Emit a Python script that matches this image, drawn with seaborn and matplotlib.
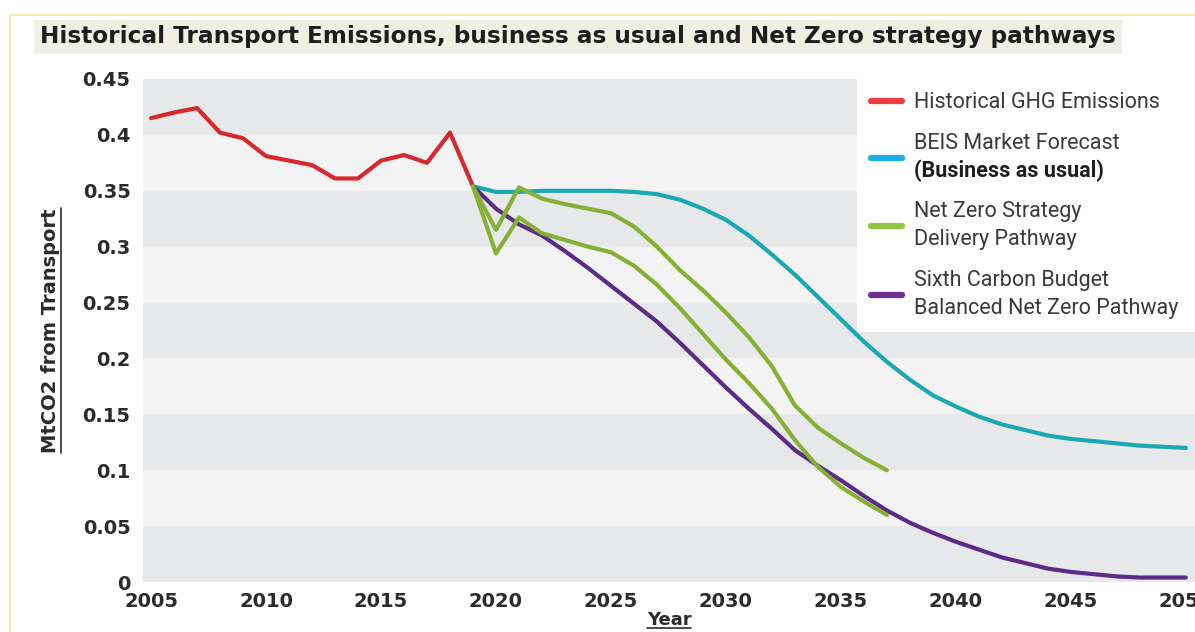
import matplotlib.pyplot as plt
import matplotlib.lines as mlines
import matplotlib.patches as mpatches
import seaborn as sns

# historical transport emissions (red line)
hist_years = list(range(2005, 2020))
hist_values = [0.415, 0.420, 0.424, 0.402, 0.397, 0.381, 0.377, 0.373,
               0.361, 0.361, 0.377, 0.382, 0.375, 0.402, 0.354]

# projections from 2019 to 2050
proj_years = list(range(2019, 2051))
beis_values = [0.354, 0.349, 0.349, 0.350, 0.350, 0.350, 0.350, 0.349,
               0.347, 0.342, 0.334, 0.324, 0.310, 0.293, 0.275, 0.255,
               0.235, 0.215, 0.197, 0.181, 0.167, 0.157, 0.148, 0.141,
               0.136, 0.131, 0.128, 0.126, 0.124, 0.122, 0.121, 0.120]
sixth_cb_values = [0.354, 0.334, 0.320, 0.310, 0.296, 0.281, 0.265, 0.249,
                   0.233, 0.214, 0.194, 0.174, 0.155, 0.137, 0.118, 0.104,
                   0.091, 0.077, 0.064, 0.053, 0.044, 0.036, 0.029, 0.022,
                   0.017, 0.012, 0.009, 0.007, 0.005, 0.004, 0.004, 0.004]

# net zero strategy delivery pathway (two green lines), 2019 to 2037
nzs_years = list(range(2019, 2038))
nzs_upper = [0.354, 0.315, 0.353, 0.343, 0.338, 0.334, 0.330, 0.318, 0.300,
             0.279, 0.261, 0.241, 0.219, 0.193, 0.158, 0.138, 0.124, 0.111, 0.100]
nzs_lower = [0.354, 0.294, 0.326, 0.312, 0.306, 0.300, 0.295, 0.283, 0.266,
             0.245, 0.222, 0.199, 0.178, 0.155, 0.127, 0.103, 0.085, 0.072, 0.060]

x_ticks = [2005, 2010, 2015, 2020, 2025, 2030, 2035, 2040, 2045, 2050]
y_ticks = [0, 0.05, 0.1, 0.15, 0.2, 0.25, 0.3, 0.35, 0.4, 0.45]
y_tick_labels = ['0', '0.05', '0.1', '0.15', '0.2', '0.25', '0.3', '0.35', '0.4', '0.45']

# second line of the BEIS entry is left blank and written in bold on top
legend_labels = ['Historical GHG Emissions',
                 'BEIS Market Forecast\n ',
                 'Net Zero Strategy\nDelivery Pathway',
                 'Sixth Carbon Budget\nBalanced Net Zero Pathway']
legend_bold = '(Business as usual)'
legend_colors = ['#ef3e42', '#1aaee5', '#8dc63f', '#6f2c91']

title = 'Historical Transport Emissions, business as usual and Net Zero strategy pathways'

sns.set_style('white')
plt.rcParams['font.family'] = ['Roboto', 'DejaVu Sans']

fig = plt.figure(figsize=(11.95, 6.32), dpi=100)
ax = fig.add_axes([143 / 1195, 50 / 632, 1 - 143 / 1195, 503 / 632])

# alternating grey bands
for i in range(len(y_ticks) - 1):
    band = '#f3f3f4' if i % 2 else '#e7e8ea'
    ax.axhspan(y_ticks[i], y_ticks[i + 1], color=band, lw=0, zorder=0)

# the lines
sns.lineplot(x=hist_years, y=hist_values, color='#d9272e', lw=3, ax=ax)
sns.lineplot(x=proj_years, y=beis_values, color='#1ba8b5', lw=3, ax=ax)
sns.lineplot(x=proj_years, y=sixth_cb_values, color='#5c2b88', lw=3, ax=ax)
sns.lineplot(x=nzs_years, y=nzs_upper, color='#86b034', lw=3, ax=ax)
sns.lineplot(x=nzs_years, y=nzs_lower, color='#86b034', lw=3, ax=ax)

ax.set_xlim(2004.65, 2050.4)
ax.set_ylim(0, 0.45)
ax.set_xticks(x_ticks)
ax.set_yticks(y_ticks)
ax.set_yticklabels(y_tick_labels)
ax.tick_params(length=0, labelsize=14, labelcolor='#2b2b2b')
ax.tick_params(axis='x', pad=7)
ax.tick_params(axis='y', pad=9)
for lab in ax.get_xticklabels() + ax.get_yticklabels():
    lab.set_fontweight('bold')
    lab.set_family('DejaVu Sans')
sns.despine(ax=ax, left=True, bottom=True)

ax.set_xlabel('Year', fontsize=13, fontweight='bold', family='DejaVu Sans',
              color='#2b2b2b', labelpad=0)
ax.set_ylabel('MtCO2 from Transport', fontsize=14, fontweight='bold',
              family='DejaVu Sans', color='#2b2b2b', labelpad=16)

# legend, stretched to the right edge like the white box in the original
handles = [mlines.Line2D([], [], color=c, lw=4.5) for c in legend_colors]
leg = ax.legend(handles, legend_labels, loc='upper left', mode='expand',
                bbox_to_anchor=(0.679, 0.0, 0.34, 1.0), borderaxespad=0,
                fontsize=15.5, frameon=True, fancybox=False, framealpha=1,
                facecolor='white', edgecolor='none', handlelength=1.45,
                handletextpad=0.55, labelspacing=0.9, borderpad=0.62)
for t in leg.get_texts():
    t.set_color('#3a3a3a')
    t.set_linespacing(1.45)
leg.set_zorder(10)
beis_text = leg.get_texts()[1]
ax.annotate(legend_bold, xy=(0, 0), xycoords=beis_text, ha='left', va='bottom',
            fontsize=15.5, fontweight='bold', color='#1e1e1e', zorder=11,
            annotation_clip=False)

# title with its shaded box
fig.text(40 / 1195, 1 - 37 / 632, title, ha='left', va='center', fontsize=16.7,
         fontweight='bold', family='DejaVu Sans', color='#1e1e1e',
         bbox=dict(facecolor='#eff0e3', edgecolor='none', boxstyle='square,pad=0.25'))

# pale yellow outer frame
fig.add_artist(mpatches.Rectangle((10 / 1195, -0.1), 1.2, 1.1 - 15 / 632,
                                  transform=fig.transFigure, fill=False,
                                  edgecolor='#f2ecb0', lw=1.5))

# underline the axis titles
fig.canvas.draw()
W, H = fig.bbox.width, fig.bbox.height
bb = ax.yaxis.label.get_window_extent()
fig.add_artist(mlines.Line2D([(bb.x1 + 1) / W] * 2, [bb.y0 / H, bb.y1 / H],
                             transform=fig.transFigure, color='#2b2b2b', lw=1.2))
bb = ax.xaxis.label.get_window_extent()
fig.add_artist(mlines.Line2D([bb.x0 / W, bb.x1 / W], [(bb.y0 + 1) / H] * 2,
                             transform=fig.transFigure, color='#2b2b2b', lw=1.2))

fig.savefig('out.png', dpi=100)
